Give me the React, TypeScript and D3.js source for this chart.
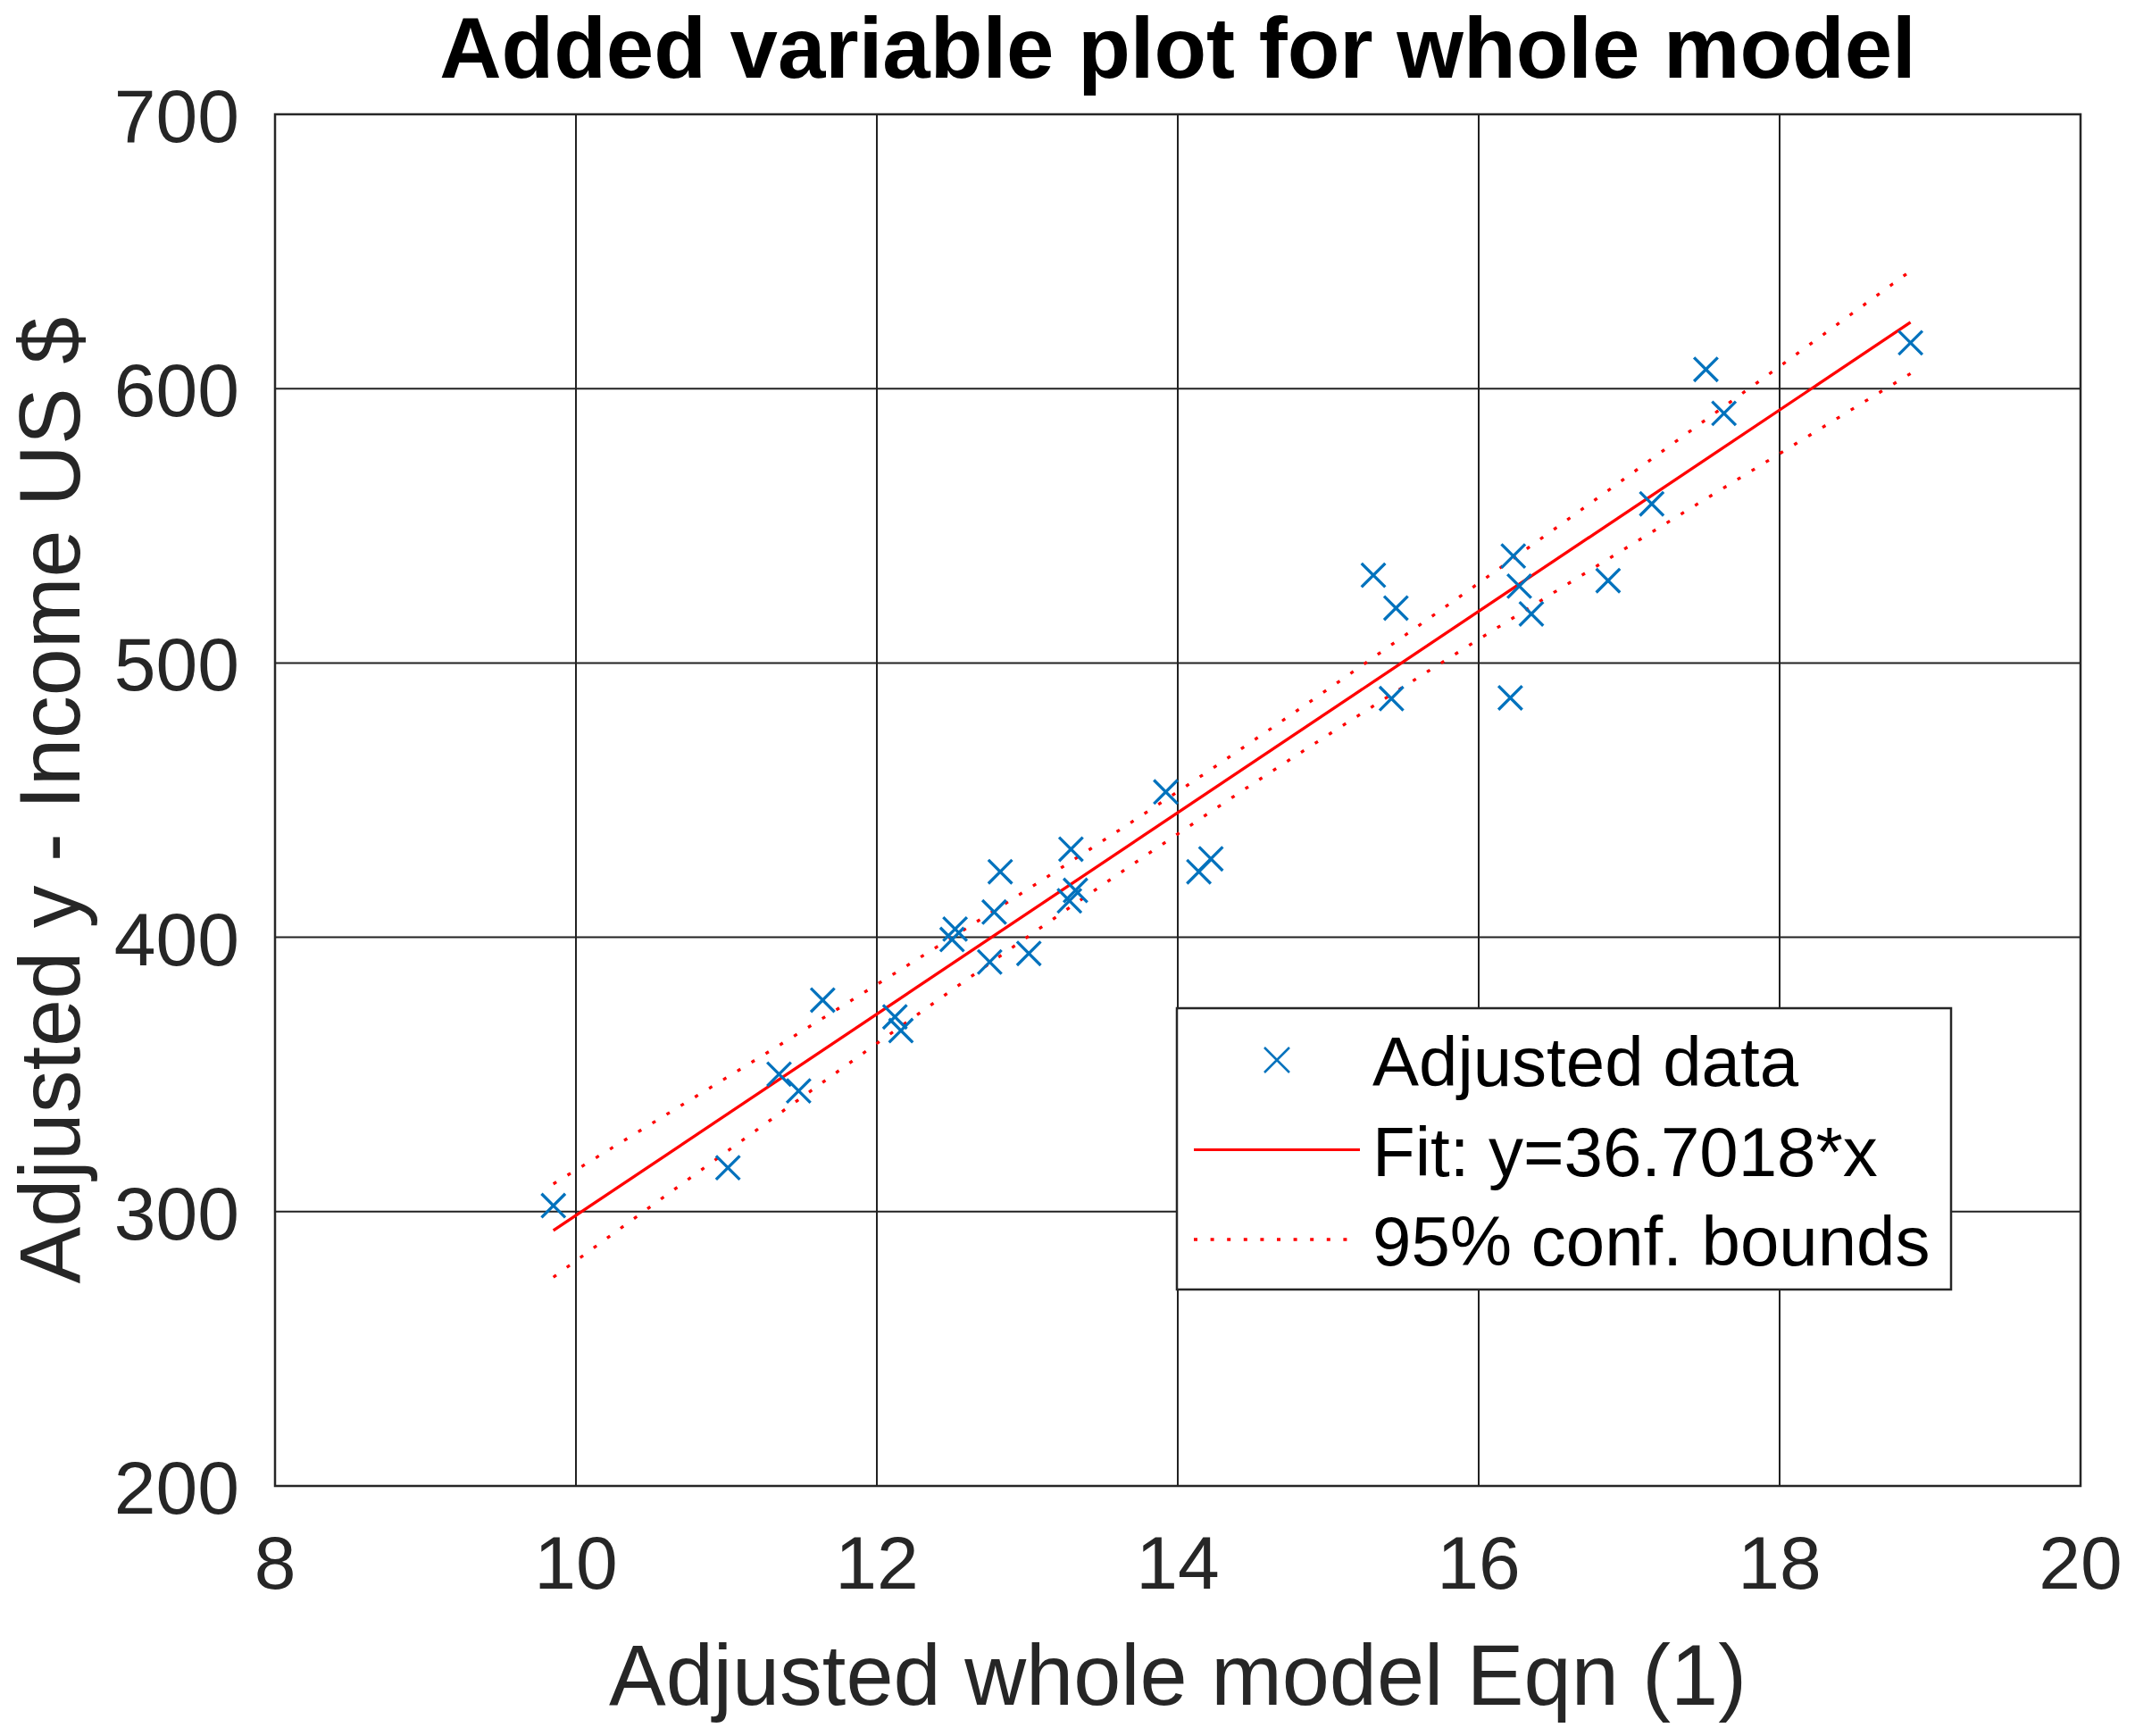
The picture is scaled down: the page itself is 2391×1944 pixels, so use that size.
import React, { useRef, useEffect } from 'react';
import * as d3 from 'd3';

// adjusted data
const adjX = [9.85, 11.01, 11.35, 11.48, 11.64, 12.12, 12.16, 12.52, 12.50, 12.75, 12.78, 12.82, 13.01, 13.29, 13.28, 13.32,
    13.92, 14.14, 14.22, 15.30, 15.45, 15.42, 16.23, 16.27, 16.35, 16.21, 16.86, 17.15, 17.51, 17.63, 18.87];
const adjY = [302.2, 316, 350.1, 344.0, 377.1, 371, 366, 403.0, 399.2, 391.0, 409.2, 423.9, 394.1, 432.1, 413.3, 417.1,
    453.0, 423.9, 428.6, 532, 520, 487, 539.0, 528.0, 517.9, 487.3, 530, 558, 607, 591, 616.7];

// fit line
const fitSlope = 36.7018;
const fitIntercept = -68.4;
const fitX = [9.85, 18.87];

// 95% confidence bounds
const boundX = [9.85, 10.5, 11, 11.5, 12, 12.5, 13, 13.5, 14, 14.5, 15, 15.5, 16, 16.5, 17, 17.5, 18, 18.5, 18.87];
const upperBound = [310.1, 332.0, 348.8, 365.7, 382.8, 400.0, 417.4, 435.1, 453.1, 471.6, 490.5, 509.7, 529.1, 548.7, 568.4, 588.3, 608.1, 628.1, 642.9];
const lowerBound = [276.1, 302.0, 321.8, 341.6, 361.3, 380.8, 400.1, 419.1, 437.7, 456.0, 473.8, 491.3, 508.6, 525.7, 542.6, 559.5, 576.3, 593.1, 605.5];

const xTicks = [8, 10, 12, 14, 16, 18, 20];
const yTicks = [200, 300, 400, 500, 600, 700];

const legendLabels = ['Adjusted data', 'Fit: y=36.7018*x', '95% conf. bounds'];

const W = 2391;
const H = 1944;
const plot = { left: 308, right: 2330, top: 128, bottom: 1664 };
const FONT = '"Liberation Sans", Arial, Helvetica, sans-serif';
const AXIS_COLOR = '#262626';
const BLUE = '#0072BD';
const RED = '#FF0000';
const DOTS = '4,14.6';

const AddedVariablePlot: React.FC = () => {
    const ref = useRef<SVGSVGElement | null>(null);

    useEffect(() => {
        if (!ref.current) return;
        const svg = d3.select(ref.current);
        svg.selectAll('*').remove();

        const x = d3.scaleLinear().domain([8, 20]).range([plot.left, plot.right]);
        const y = d3.scaleLinear().domain([200, 700]).range([plot.bottom, plot.top]);

        svg.append('rect').attr('width', W).attr('height', H).attr('fill', '#fff');

        // grid
        const grid = svg.append('g').attr('stroke', '#222').attr('stroke-width', 2);
        grid.selectAll('line.gx')
            .data(xTicks.slice(1, -1))
            .join('line')
            .attr('x1', d => x(d)).attr('x2', d => x(d))
            .attr('y1', plot.top).attr('y2', plot.bottom);
        grid.selectAll('line.gy')
            .data(yTicks.slice(1, -1))
            .join('line')
            .attr('class', 'gy')
            .attr('y1', d => y(d)).attr('y2', d => y(d))
            .attr('x1', plot.left).attr('x2', plot.right);

        // axes box
        svg.append('rect')
            .attr('x', plot.left).attr('y', plot.top)
            .attr('width', plot.right - plot.left).attr('height', plot.bottom - plot.top)
            .attr('fill', 'none').attr('stroke', AXIS_COLOR).attr('stroke-width', 2.5);

        // tick labels
        svg.append('g')
            .selectAll('text')
            .data(xTicks)
            .join('text')
            .attr('x', d => x(d))
            .attr('y', 1779)
            .attr('text-anchor', 'middle')
            .attr('font-family', FONT)
            .attr('font-size', 84)
            .attr('fill', AXIS_COLOR)
            .text(d => d);

        svg.append('g')
            .selectAll('text')
            .data(yTicks)
            .join('text')
            .attr('x', plot.left - 40)
            .attr('y', d => y(d) + 31)
            .attr('text-anchor', 'end')
            .attr('font-family', FONT)
            .attr('font-size', 84)
            .attr('fill', AXIS_COLOR)
            .text(d => d);

        // confidence bounds
        const line = d3.line<[number, number]>().x(d => x(d[0])).y(d => y(d[1])).curve(d3.curveMonotoneX);
        [upperBound, lowerBound].forEach(b => {
            svg.append('path')
                .attr('d', line(boundX.map((v, i) => [v, b[i]] as [number, number])))
                .attr('fill', 'none')
                .attr('stroke', RED)
                .attr('stroke-width', 3.3)
                .attr('stroke-dasharray', DOTS);
        });

        // fit
        svg.append('path')
            .attr('d', line(fitX.map(v => [v, fitSlope * v + fitIntercept] as [number, number])))
            .attr('fill', 'none')
            .attr('stroke', RED)
            .attr('stroke-width', 3.3);

        // markers
        const s = 13.3;
        const cross = `M${-s},${-s}L${s},${s}M${-s},${s}L${s},${-s}`;
        svg.append('g')
            .selectAll('path')
            .data(adjX.map((v, i) => [v, adjY[i]]))
            .join('path')
            .attr('transform', d => `translate(${x(d[0])},${y(d[1])})`)
            .attr('d', cross)
            .attr('fill', 'none')
            .attr('stroke', BLUE)
            .attr('stroke-width', 3.3);

        // legend
        const lg = svg.append('g');
        lg.append('rect')
            .attr('x', 1318).attr('y', 1129).attr('width', 867).attr('height', 315)
            .attr('fill', '#fff').attr('stroke', AXIS_COLOR).attr('stroke-width', 2.5);
        const rowY = (i: number) => 1187 + i * 100.5;
        lg.append('path')
            .attr('transform', `translate(1430,${rowY(0)})`)
            .attr('d', `M-14,-14L14,14M-14,14L14,-14`)
            .attr('stroke', BLUE).attr('stroke-width', 2.5);
        lg.append('line')
            .attr('x1', 1337).attr('x2', 1523).attr('y1', rowY(1)).attr('y2', rowY(1))
            .attr('stroke', RED).attr('stroke-width', 2.8);
        lg.append('line')
            .attr('x1', 1337).attr('x2', 1512).attr('y1', rowY(2)).attr('y2', rowY(2))
            .attr('stroke', RED).attr('stroke-width', 3.3).attr('stroke-dasharray', DOTS);
        lg.selectAll('text')
            .data(legendLabels)
            .join('text')
            .attr('x', 1537)
            .attr('y', (d, i) => rowY(i) + 29)
            .attr('font-family', FONT)
            .attr('font-size', 78)
            .attr('fill', '#000')
            .text(d => d);

        // titles
        svg.append('text')
            .attr('x', (plot.left + plot.right) / 2).attr('y', 87)
            .attr('text-anchor', 'middle')
            .attr('font-family', FONT).attr('font-weight', 'bold').attr('font-size', 96)
            .attr('fill', '#000')
            .text('Added variable plot for whole model');
        svg.append('text')
            .attr('x', (plot.left + plot.right) / 2).attr('y', 1909)
            .attr('text-anchor', 'middle')
            .attr('font-family', FONT).attr('font-size', 95.5)
            .attr('fill', AXIS_COLOR)
            .text('Adjusted whole model Eqn (1)');
        svg.append('text')
            .attr('transform', `translate(89,${(plot.top + plot.bottom) / 2}) rotate(-90)`)
            .attr('text-anchor', 'middle')
            .attr('font-family', FONT).attr('font-size', 95.5)
            .attr('fill', AXIS_COLOR)
            .text('Adjusted y - Income US $');

        return () => {
            // eslint-disable-next-line react-hooks/exhaustive-deps
            d3.select(ref.current).selectAll('*').remove();
        };
    }, []);

    return <svg ref={ref} width={W} height={H} style={{ position: 'absolute', left: 0, top: 0, display: 'block' }}></svg>;
};

export default function App() {
    return <AddedVariablePlot />;
}
